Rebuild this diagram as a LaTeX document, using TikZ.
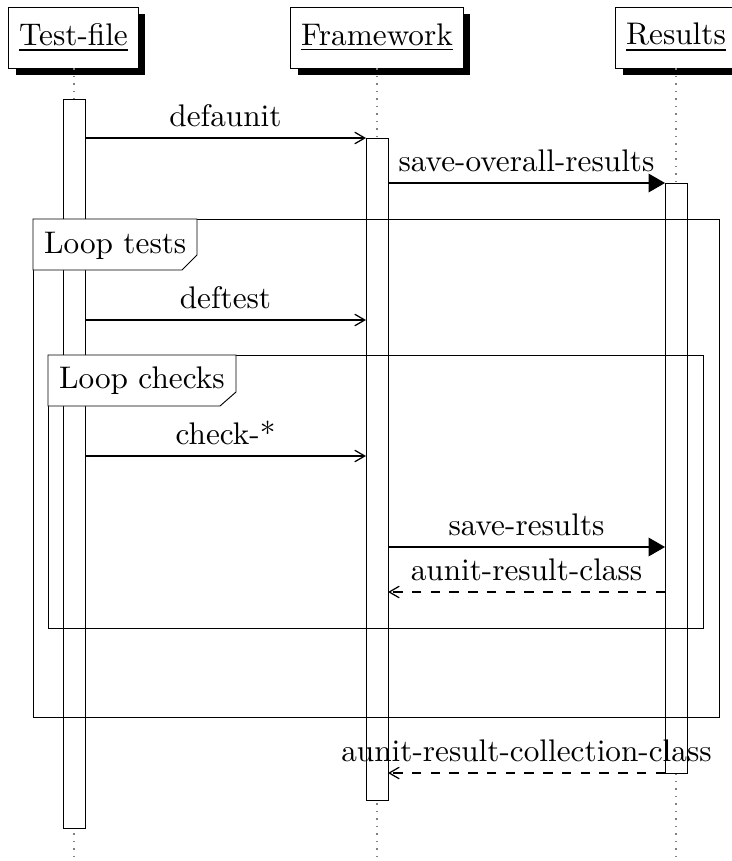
\documentclass[tikz,border=0pt]{standalone}
\usetikzlibrary{shadows,arrows}
\begin{document}
\begin{tikzpicture}[x=0.32pt,y=-0.32pt,
  thread/.style={draw, line width=0.3pt, fill=white, minimum height=19.5pt,
    drop shadow={shadow xshift=2.24pt, shadow yshift=-2.24pt, opacity=1, fill=black}},
  lifeline/.style={dotted, gray},
  activity/.style={draw, line width=0.3pt, fill=white},
  loopframe/.style={draw, line width=0.3pt},
  looptab/.style={draw, line width=0.3pt, fill=white},
  tablabel/.style={anchor=west},
  callmsg/.style={->, >=angle 60},
  sendmsg/.style={->, >=triangle 60},
  replymsg/.style={->, >=angle 60, dashed},
  msglabel/.style={above}
]
\useasboundingbox (0,0) rectangle (732,861);

% participants
\node[thread] (tf) at (73.5,37.5) {\underline{Test-file}};
\node[thread] (fw) at (377,37.5) {\underline{Framework}};
\node[thread] (rs) at (676,37.5) {\underline{Results}};

% lifelines
\coordinate (tfend) at (74,861);
\coordinate (fwend) at (377,861);
\coordinate (rsend) at (676,861);
\draw[lifeline] (tf.south -| tfend) -- (tfend);
\draw[lifeline] (fw.south -| fwend) -- (fwend);
\draw[lifeline] (rs.south -| rsend) -- (rsend);

% activations
\draw[activity] (63,99) rectangle (85,828);
\draw[activity] (366,138) rectangle (388,800);
\draw[activity] (665,183) rectangle (687,773);

% loop frames
\draw[loopframe] (33,219) rectangle (719,717);
\draw[looptab] (33,219) -- (197,219) -- (197,255) -- (182,270) -- (33,270) -- cycle;
\node[tablabel] (lt) at (33,245.5) {Loop tests};

\draw[loopframe] (48,355) rectangle (703,628);
\draw[looptab] (48,355) -- (236,355) -- (236,392) -- (220,406) -- (48,406) -- cycle;
\node[tablabel] (lc) at (48,380.5) {Loop checks};

% message end points
\coordinate (a1) at (85,138);   \coordinate (b1) at (366,138);
\coordinate (a2) at (388,183);  \coordinate (b2) at (665,183);
\coordinate (a3) at (85,320);   \coordinate (b3) at (366,320);
\coordinate (a4) at (85,456);   \coordinate (b4) at (366,456);
\coordinate (a5) at (388,547);  \coordinate (b5) at (665,547);
\coordinate (a6) at (665,592);  \coordinate (b6) at (388,592);
\coordinate (a7) at (665,773);  \coordinate (b7) at (388,773);

% messages
\draw[callmsg] (a1) -- node[msglabel] {defaunit} (b1);
\draw[sendmsg] (a2) -- node[msglabel] {save-overall-results} (b2);
\draw[callmsg] (a3) -- node[msglabel] {deftest} (b3);
\draw[callmsg] (a4) -- node[msglabel] {check-*} (b4);
\draw[sendmsg] (a5) -- node[msglabel] {save-results} (b5);
\draw[replymsg] (a6) -- node[msglabel] {aunit-result-class} (b6);
\draw[replymsg] (a7) -- node[msglabel] {aunit-result-collection-class} (b7);
\end{tikzpicture}
\end{document}
